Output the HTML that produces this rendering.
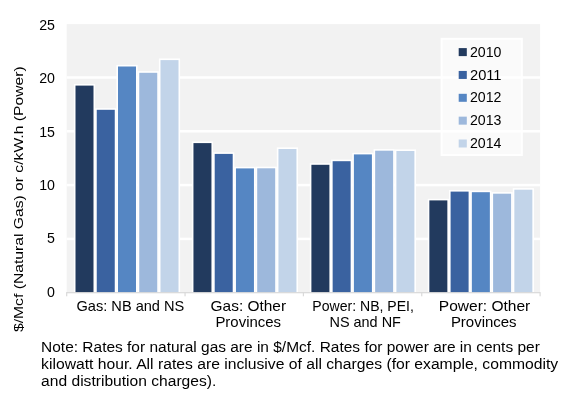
<!DOCTYPE html>
<html><head><meta charset="utf-8"><style>
html,body{margin:0;padding:0;background:#fff;}
body{width:580px;height:416px;overflow:hidden;}
svg{display:block;font-family:"Liberation Sans", sans-serif;will-change:transform;}
text{fill:#000;}
</style></head><body>
<svg width="580" height="416" viewBox="0 0 580 416">
<rect x="0" y="0" width="580" height="416" fill="#FFFFFF"/>
<rect x="66.7" y="24.1" width="473.40" height="268.60" fill="#F2F2F2"/>
<rect x="66.7" y="237.65" width="473.40" height="2.5" fill="#FFFFFF"/>
<rect x="66.7" y="183.85" width="473.40" height="2.5" fill="#FFFFFF"/>
<rect x="66.7" y="130.05" width="473.40" height="2.5" fill="#FFFFFF"/>
<rect x="66.7" y="76.25" width="473.40" height="2.5" fill="#FFFFFF"/>
<rect x="73.90" y="84.00" width="21.20" height="208.60" fill="#FFFFFF"/>
<rect x="75.50" y="85.60" width="18.00" height="207.00" fill="#223A5E"/>
<rect x="95.15" y="108.20" width="21.20" height="184.40" fill="#FFFFFF"/>
<rect x="96.75" y="109.80" width="18.00" height="182.80" fill="#3A62A0"/>
<rect x="116.40" y="64.90" width="21.20" height="227.70" fill="#FFFFFF"/>
<rect x="118.00" y="66.50" width="18.00" height="226.10" fill="#5586C3"/>
<rect x="137.65" y="71.20" width="21.20" height="221.40" fill="#FFFFFF"/>
<rect x="139.25" y="72.80" width="18.00" height="219.80" fill="#9DB8DC"/>
<rect x="158.90" y="58.50" width="21.20" height="234.10" fill="#FFFFFF"/>
<rect x="160.50" y="60.10" width="18.00" height="232.50" fill="#C2D4E9"/>
<rect x="191.85" y="141.50" width="21.20" height="151.10" fill="#FFFFFF"/>
<rect x="193.45" y="143.10" width="18.00" height="149.50" fill="#223A5E"/>
<rect x="213.10" y="152.30" width="21.20" height="140.30" fill="#FFFFFF"/>
<rect x="214.70" y="153.90" width="18.00" height="138.70" fill="#3A62A0"/>
<rect x="234.35" y="166.80" width="21.20" height="125.80" fill="#FFFFFF"/>
<rect x="235.95" y="168.40" width="18.00" height="124.20" fill="#5586C3"/>
<rect x="255.60" y="166.70" width="21.20" height="125.90" fill="#FFFFFF"/>
<rect x="257.20" y="168.30" width="18.00" height="124.30" fill="#9DB8DC"/>
<rect x="276.85" y="147.40" width="21.20" height="145.20" fill="#FFFFFF"/>
<rect x="278.45" y="149.00" width="18.00" height="143.60" fill="#C2D4E9"/>
<rect x="309.80" y="163.20" width="21.20" height="129.40" fill="#FFFFFF"/>
<rect x="311.40" y="164.80" width="18.00" height="127.80" fill="#223A5E"/>
<rect x="331.05" y="159.60" width="21.20" height="133.00" fill="#FFFFFF"/>
<rect x="332.65" y="161.20" width="18.00" height="131.40" fill="#3A62A0"/>
<rect x="352.30" y="152.80" width="21.20" height="139.80" fill="#FFFFFF"/>
<rect x="353.90" y="154.40" width="18.00" height="138.20" fill="#5586C3"/>
<rect x="373.55" y="149.10" width="21.20" height="143.50" fill="#FFFFFF"/>
<rect x="375.15" y="150.70" width="18.00" height="141.90" fill="#9DB8DC"/>
<rect x="394.80" y="149.40" width="21.20" height="143.20" fill="#FFFFFF"/>
<rect x="396.40" y="151.00" width="18.00" height="141.60" fill="#C2D4E9"/>
<rect x="427.75" y="198.80" width="21.20" height="93.80" fill="#FFFFFF"/>
<rect x="429.35" y="200.40" width="18.00" height="92.20" fill="#223A5E"/>
<rect x="449.00" y="190.00" width="21.20" height="102.60" fill="#FFFFFF"/>
<rect x="450.60" y="191.60" width="18.00" height="101.00" fill="#3A62A0"/>
<rect x="470.25" y="190.60" width="21.20" height="102.00" fill="#FFFFFF"/>
<rect x="471.85" y="192.20" width="18.00" height="100.40" fill="#5586C3"/>
<rect x="491.50" y="192.10" width="21.20" height="100.50" fill="#FFFFFF"/>
<rect x="493.10" y="193.70" width="18.00" height="98.90" fill="#9DB8DC"/>
<rect x="512.75" y="188.10" width="21.20" height="104.50" fill="#FFFFFF"/>
<rect x="514.35" y="189.70" width="18.00" height="102.90" fill="#C2D4E9"/>
<rect x="66.7" y="292.10" width="473.40" height="1.2" fill="#D9D9D9"/>
<rect x="66.10" y="292.10" width="1.2" height="4.2" fill="#D9D9D9"/>
<rect x="184.45" y="292.10" width="1.2" height="4.2" fill="#D9D9D9"/>
<rect x="302.80" y="292.10" width="1.2" height="4.2" fill="#D9D9D9"/>
<rect x="421.15" y="292.10" width="1.2" height="4.2" fill="#D9D9D9"/>
<rect x="539.50" y="292.10" width="1.2" height="4.2" fill="#D9D9D9"/>
<rect x="441.6" y="38.8" width="80.2" height="116.2" fill="#FFFFFF" fill-opacity="0.62" stroke="#FFFFFF" stroke-width="2"/>
<rect x="458.7" y="48.10" width="8.1" height="8.0" fill="#223A5E"/>
<text x="470" y="56.70" font-size="14.6" textLength="31.5" lengthAdjust="spacingAndGlyphs">2010</text>
<rect x="458.7" y="70.95" width="8.1" height="8.0" fill="#3A62A0"/>
<text x="470" y="79.55" font-size="14.6" textLength="31.5" lengthAdjust="spacingAndGlyphs">2011</text>
<rect x="458.7" y="93.80" width="8.1" height="8.0" fill="#5586C3"/>
<text x="470" y="102.40" font-size="14.6" textLength="31.5" lengthAdjust="spacingAndGlyphs">2012</text>
<rect x="458.7" y="116.65" width="8.1" height="8.0" fill="#9DB8DC"/>
<text x="470" y="125.25" font-size="14.6" textLength="31.5" lengthAdjust="spacingAndGlyphs">2013</text>
<rect x="458.7" y="139.50" width="8.1" height="8.0" fill="#C2D4E9"/>
<text x="470" y="148.10" font-size="14.6" textLength="31.5" lengthAdjust="spacingAndGlyphs">2014</text>
<text x="55" y="296.70" font-size="14.2" text-anchor="end">0</text>
<text x="55" y="243.30" font-size="14.2" text-anchor="end">5</text>
<text x="55" y="189.90" font-size="14.2" text-anchor="end">10</text>
<text x="55" y="136.50" font-size="14.2" text-anchor="end">15</text>
<text x="55" y="83.10" font-size="14.2" text-anchor="end">20</text>
<text x="55" y="29.70" font-size="14.2" text-anchor="end">25</text>
<text x="76.50" y="310.5" font-size="14.8" textLength="107.80" lengthAdjust="spacingAndGlyphs">Gas: NB and NS</text>
<text x="210.60" y="310.5" font-size="14.8" textLength="75.50" lengthAdjust="spacingAndGlyphs">Gas: Other</text>
<text x="215.40" y="327.4" font-size="14.8" textLength="65.70" lengthAdjust="spacingAndGlyphs">Provinces</text>
<text x="312.30" y="310.5" font-size="14.8" textLength="101.60" lengthAdjust="spacingAndGlyphs">Power: NB, PEI,</text>
<text x="329.50" y="327.4" font-size="14.8" textLength="71.40" lengthAdjust="spacingAndGlyphs">NS and NF</text>
<text x="438.80" y="310.5" font-size="14.8" textLength="91.50" lengthAdjust="spacingAndGlyphs">Power: Other</text>
<text x="450.90" y="327.4" font-size="14.8" textLength="65.70" lengthAdjust="spacingAndGlyphs">Provinces</text>
<text x="41.10" y="352.2" font-size="14" textLength="498.70" lengthAdjust="spacingAndGlyphs">Note: Rates for natural gas are in $/Mcf. Rates for power are in cents per</text>
<text x="41.10" y="369.2" font-size="14" textLength="517.10" lengthAdjust="spacingAndGlyphs">kilowatt hour. All rates are inclusive of all charges (for example, commodity</text>
<text x="41.10" y="386.4" font-size="14" textLength="175.20" lengthAdjust="spacingAndGlyphs">and distribution charges).</text>
<text transform="translate(22.8,332.0) rotate(-90)" x="0" y="0" font-size="13.2" textLength="265.6" lengthAdjust="spacingAndGlyphs">$/Mcf (Natural Gas) or c/kW.h (Power)</text>
</svg>
</body></html>
